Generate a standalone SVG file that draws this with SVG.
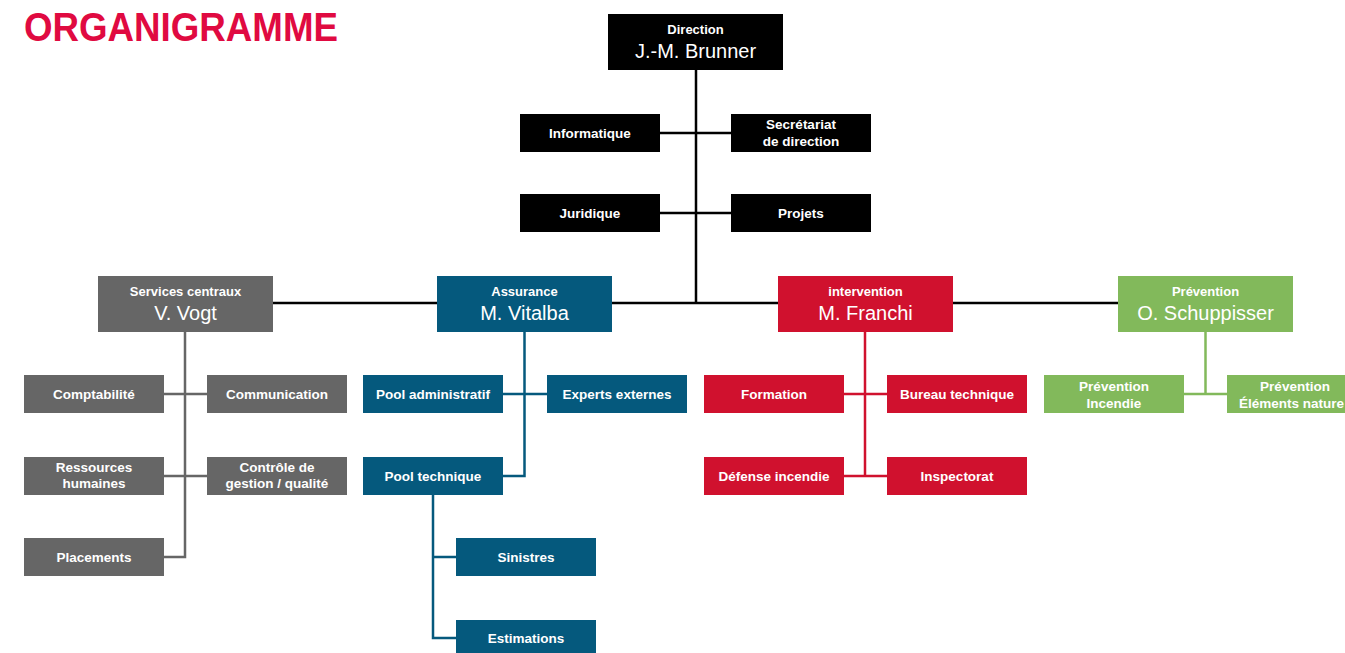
<svg xmlns="http://www.w3.org/2000/svg" width="1345" height="653" viewBox="0 0 1345 653">
<style>
text{font-family:"Liberation Sans",Arial,sans-serif;fill:#fff;text-anchor:middle}
.t{font-size:13.5px;font-weight:bold}
.h{font-size:13px;font-weight:bold}
.n{font-size:20px}
.k{fill:#000}.g{fill:#666}.b{fill:#05597d}.r{fill:#d0112e}.v{fill:#82b95b}
.lk{stroke:#000;stroke-width:2.5;fill:none}
.lg{stroke:#666;stroke-width:2.5;fill:none}
.lb{stroke:#05597d;stroke-width:2.5;fill:none}
.lr{stroke:#d0112e;stroke-width:2.5;fill:none}
.lv{stroke:#82b95b;stroke-width:2.5;fill:none}
</style>
<rect width="1345" height="653" fill="#fff"/>
<text x="24" y="41" style="font-size:40px;font-weight:bold;fill:#e00a41;text-anchor:start" textLength="314" lengthAdjust="spacingAndGlyphs">ORGANIGRAMME</text>
<g id="connectors">
<path class="lk" d="M696 70V303M660 133H731M660 213H731M272 303H1118"/>
<path class="lg" d="M185 332V557H164M164 394H207M164 476H207"/>
<path class="lb" d="M524.5 332V476H503M503 394H547M433 495V638H456M433 557H456"/>
<path class="lr" d="M865 332V476M844 394H887M844 476H887"/>
<path class="lv" d="M1205.5 332V394M1184 394H1227"/>
</g>
<g id="direction"><rect class="k" x="608" y="14" width="175" height="56"/><text class="h" x="695.5" y="34">Direction</text><text class="n" x="695.5" y="58">J.-M. Brunner</text></g>
<g id="informatique"><rect class="k" x="520" y="114" width="140" height="38"/><text class="t" x="590" y="137.5">Informatique</text></g>
<g id="secretariat"><rect class="k" x="731" y="114" width="140" height="38"/><text class="t" x="801" y="129">Secrétariat</text><text class="t" x="801" y="146">de direction</text></g>
<g id="juridique"><rect class="k" x="520" y="194" width="140" height="38"/><text class="t" x="590" y="217.5">Juridique</text></g>
<g id="projets"><rect class="k" x="731" y="194" width="140" height="38"/><text class="t" x="801" y="217.5">Projets</text></g>

<g id="services"><rect class="g" x="98" y="276" width="175" height="56"/><text class="h" x="185.5" y="296">Services centraux</text><text class="n" x="185.5" y="320">V. Vogt</text></g>
<g id="comptabilite"><rect class="g" x="24" y="375" width="140" height="38"/><text class="t" x="94" y="398.5">Comptabilité</text></g>
<g id="communication"><rect class="g" x="207" y="375" width="140" height="38"/><text class="t" x="277" y="398.5">Communication</text></g>
<g id="rh"><rect class="g" x="24" y="457" width="140" height="38"/><text class="t" x="94" y="471.5">Ressources</text><text class="t" x="94" y="488">humaines</text></g>
<g id="controle"><rect class="g" x="207" y="457" width="140" height="38"/><text class="t" x="277" y="471.5">Contrôle de</text><text class="t" x="277" y="488">gestion / qualité</text></g>
<g id="placements"><rect class="g" x="24" y="538" width="140" height="38"/><text class="t" x="94" y="561.5">Placements</text></g>

<g id="assurance"><rect class="b" x="437" y="276" width="175" height="56"/><text class="h" x="524.5" y="296">Assurance</text><text class="n" x="524.5" y="320">M. Vitalba</text></g>
<g id="pooladmin"><rect class="b" x="363" y="375" width="140" height="38"/><text class="t" x="433" y="398.5">Pool administratif</text></g>
<g id="experts"><rect class="b" x="547" y="375" width="140" height="38"/><text class="t" x="617" y="398.5">Experts externes</text></g>
<g id="pooltech"><rect class="b" x="363" y="457" width="140" height="38"/><text class="t" x="433" y="480.5">Pool technique</text></g>
<g id="sinistres"><rect class="b" x="456" y="538" width="140" height="38"/><text class="t" x="526" y="561.5">Sinistres</text></g>
<g id="estimations"><rect class="b" x="456" y="620" width="140" height="38"/><text class="t" x="526" y="643">Estimations</text></g>

<g id="intervention"><rect class="r" x="778" y="276" width="175" height="56"/><text class="h" x="865.5" y="296">intervention</text><text class="n" x="865.5" y="320">M. Franchi</text></g>
<g id="formation"><rect class="r" x="704" y="375" width="140" height="38"/><text class="t" x="774" y="398.5">Formation</text></g>
<g id="bureau"><rect class="r" x="887" y="375" width="140" height="38"/><text class="t" x="957" y="398.5">Bureau technique</text></g>
<g id="defense"><rect class="r" x="704" y="457" width="140" height="38"/><text class="t" x="774" y="480.5">Défense incendie</text></g>
<g id="inspectorat"><rect class="r" x="887" y="457" width="140" height="38"/><text class="t" x="957" y="480.5">Inspectorat</text></g>

<g id="prevention"><rect class="v" x="1118" y="276" width="175" height="56"/><text class="h" x="1205.5" y="296">Prévention</text><text class="n" x="1205.5" y="320">O. Schuppisser</text></g>
<g id="previncendie"><rect class="v" x="1044" y="375" width="140" height="38"/><text class="t" x="1114" y="390.5">Prévention</text><text class="t" x="1114" y="407.5">Incendie</text></g>
<g id="prevelements"><rect class="v" x="1227" y="375" width="140" height="38"/><text class="t" x="1295" y="390.5">Prévention</text><text class="t" x="1239" y="407.5" style="text-anchor:start">Éléments nature</text></g>
</svg>
